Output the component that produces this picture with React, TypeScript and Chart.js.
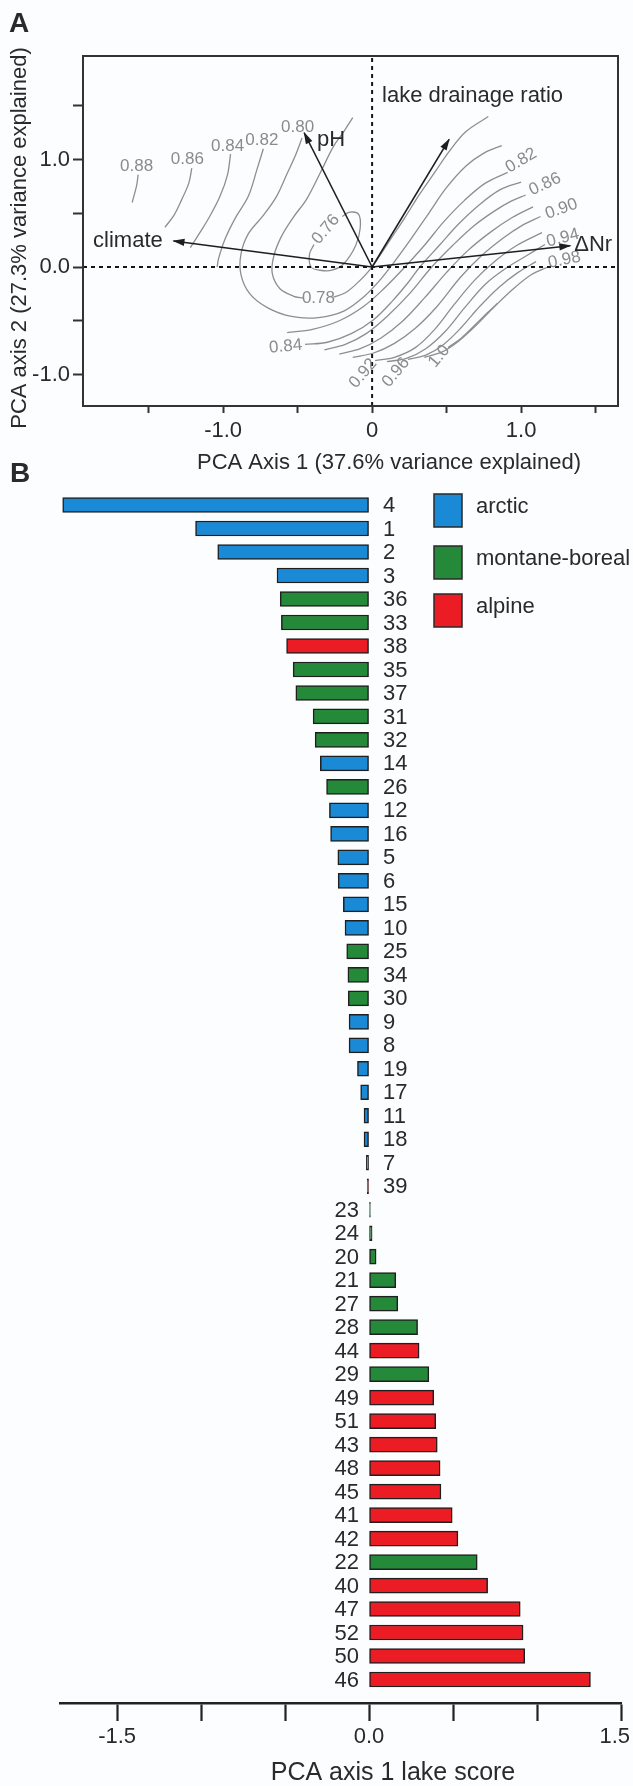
import React, { useEffect, useRef } from 'react';
import { Chart, registerables } from 'chart.js';

Chart.register(...registerables);

const FONT = '"Liberation Sans", Arial, Helvetica, sans-serif';
const INK = '#2a2a2a';
const GREY = '#8b8b8b';

// ---------------- Panel B data ----------------
const lakeIds = ['4', '1', '2', '3', '36', '33', '38', '35', '37', '31', '32', '14', '26', '12', '16', '5', '6', '15', '10', '25', '34', '30', '9', '8', '19', '17', '11', '18', '7', '39', '23', '24', '20', '21', '27', '28', '44', '29', '49', '51', '43', '48', '45', '41', '42', '22', '40', '47', '52', '50', '46'];
const lakeScores = [-1.824, -1.033, -0.901, -0.548, -0.529, -0.522, -0.491, -0.452, -0.436, -0.333, -0.321, -0.29, -0.253, -0.236, -0.229, -0.186, -0.184, -0.153, -0.143, -0.133, -0.126, -0.124, -0.119, -0.119, -0.069, -0.05, -0.03, -0.03, -0.016, -0.011, 0.008, 0.018, 0.042, 0.159, 0.171, 0.289, 0.298, 0.356, 0.385, 0.397, 0.406, 0.423, 0.428, 0.495, 0.529, 0.644, 0.706, 0.9, 0.917, 0.927, 1.318];
const lakeRegions = ['A', 'A', 'A', 'A', 'M', 'M', 'L', 'M', 'M', 'M', 'M', 'A', 'M', 'A', 'A', 'A', 'A', 'A', 'A', 'M', 'M', 'M', 'A', 'A', 'A', 'A', 'A', 'A', 'A', 'L', 'M', 'M', 'M', 'M', 'M', 'M', 'L', 'M', 'L', 'L', 'L', 'L', 'L', 'L', 'L', 'M', 'L', 'L', 'L', 'L', 'L'];
const regionCodes = ['A', 'M', 'L'];
const regionNames = ['arctic', 'montane-boreal', 'alpine'];
const regionColors = ['#1b8ad6', '#248a3a', '#ec1c24'];
const scoreRange = [-1.84, 1.5];
const scoreTicks = [-1.5, -1, -0.5, 0, 0.5, 1, 1.5];
const scoreTickLabels = ['-1.5', '', '', '0.0', '', '', '1.5'];

// ---------------- Panel A data ----------------
const pcaXRange = [-1.94, 1.65];
const pcaYRange = [-1.293, 1.963];
const pcaXTicks = [-1.5, -1, -0.5, 0, 0.5, 1, 1.5];
const pcaXTickLabels = ['', '-1.0', '', '0', '', '1.0', ''];
const pcaYTicks = [-1, -0.5, 0, 0.5, 1, 1.5];
const pcaYTickLabels = ['-1.0', '', '0.0', '', '1.0', ''];

const vectorNames = ['climate', 'pH', 'lake drainage ratio', 'ΔNr'];
const vectorX = [-1.333, -0.456, 0.517, 1.33];
const vectorY = [0.242, 1.249, 1.188, 0.198];

const contour088 = [[-1.57, 0.86], [-1.58, 0.76], [-1.61, 0.6]];
const contour086 = [[-1.21, 0.92], [-1.23, 0.78], [-1.28, 0.62], [-1.33, 0.48], [-1.39, 0.37]];
const contour084a = [[-0.95, 1.05], [-0.97, 0.86], [-1.02, 0.66], [-1.09, 0.47], [-1.16, 0.31], [-1.22, 0.18]];
const contour082a = [[-0.73, 1.1], [-0.77, 0.92], [-0.83, 0.66], [-0.92, 0.45], [-0.99, 0.25], [-1.03, 0.08], [-1.04, 0.0]];
const contour080 = [[-0.47, 1.2], [-0.52, 1.02], [-0.57, 0.87], [-0.64, 0.66], [-0.73, 0.48], [-0.83, 0.31], [-0.88, 0.12], [-0.88, -0.07], [-0.82, -0.25], [-0.7, -0.38], [-0.54, -0.46], [-0.36, -0.47], [-0.19, -0.41], [-0.05, -0.27], [0.06, -0.11], [0.15, 0.05], [0.26, 0.26], [0.38, 0.5], [0.5, 0.74], [0.63, 0.94], [0.75, 1.06], [0.87, 1.13]];
const contour078a = [[-0.13, 1.39], [-0.19, 1.26], [-0.26, 1.12], [-0.35, 0.87], [-0.44, 0.63], [-0.53, 0.46], [-0.61, 0.28], [-0.66, 0.1], [-0.67, -0.06], [-0.62, -0.2], [-0.53, -0.27], [-0.46, -0.29]];
const contour078b = [[-0.26, -0.28], [-0.18, -0.24], [-0.1, -0.15], [-0.03, -0.05], [0.03, 0.06], [0.12, 0.25], [0.22, 0.46], [0.32, 0.68], [0.42, 0.88], [0.52, 1.08], [0.63, 1.26], [0.78, 1.4]];
const contour076 = [[-0.2, 0.47], [-0.15, 0.51], [-0.09, 0.49], [-0.08, 0.36], [-0.11, 0.2], [-0.19, 0.03], [-0.27, -0.03], [-0.35, -0.03], [-0.41, 0.0], [-0.42, 0.12], [-0.39, 0.21]];
const contour082b = [[-0.57, -0.61], [-0.4, -0.58], [-0.22, -0.5], [-0.06, -0.37], [0.08, -0.2], [0.22, 0.0], [0.35, 0.2], [0.48, 0.42], [0.62, 0.62], [0.76, 0.78], [0.91, 0.88]];
const contour084b = [[-0.45, -0.72], [-0.3, -0.7], [-0.14, -0.62], [0.01, -0.49], [0.14, -0.31], [0.25, -0.13], [0.32, 0.0], [0.45, 0.2], [0.58, 0.4], [0.72, 0.58], [0.86, 0.72], [1.0, 0.79]];
const contour086b = [[-0.32, -0.77], [-0.18, -0.72], [-0.04, -0.62], [0.1, -0.46], [0.25, -0.25], [0.4, 0.0], [0.54, 0.2], [0.68, 0.38], [0.82, 0.52], [0.93, 0.61], [1.03, 0.67]];
const contour088b = [[-0.22, -0.81], [-0.08, -0.76], [0.06, -0.66], [0.2, -0.51], [0.35, -0.29], [0.5, -0.05], [0.64, 0.15], [0.79, 0.32], [0.94, 0.46], [1.08, 0.56]];
const contour090 = [[-0.13, -0.84], [0.01, -0.8], [0.15, -0.71], [0.29, -0.57], [0.44, -0.36], [0.59, -0.1], [0.73, 0.1], [0.88, 0.27], [1.01, 0.39], [1.13, 0.47]];
const contour092 = [[0.02, -0.87], [0.15, -0.84], [0.29, -0.75], [0.42, -0.58], [0.55, -0.35], [0.69, -0.12], [0.83, 0.06], [0.97, 0.2], [1.14, 0.32]];
const contour094 = [[0.1, -0.88], [0.23, -0.85], [0.36, -0.76], [0.49, -0.6], [0.62, -0.38], [0.76, -0.16], [0.9, -0.01], [1.03, 0.1], [1.16, 0.21]];
const contour096 = [[0.24, -0.86], [0.36, -0.82], [0.48, -0.72], [0.6, -0.56], [0.72, -0.37], [0.85, -0.19], [0.98, -0.05], [1.1, 0.05]];
const contour098 = [[0.35, -0.84], [0.47, -0.79], [0.58, -0.69], [0.7, -0.54], [0.82, -0.37], [0.95, -0.2], [1.07, -0.07], [1.18, 0.0]];
const contour100 = [[0.51, -0.75], [0.6, -0.66], [0.69, -0.54], [0.77, -0.43], [0.84, -0.34]];

const contours = [contour088, contour086, contour084a, contour082a, contour080, contour078a, contour078b, contour076, contour082b, contour084b, contour086b, contour088b, contour090, contour092, contour094, contour096, contour098, contour100];

const contourLabelText = ['0.88', '0.86', '0.84', '0.82', '0.80', '0.76', '0.78', '0.84', '0.92', '0.96', '1.0', '0.82', '0.86', '0.90', '0.94', '0.98'];
const contourLabelX = [-1.58, -1.24, -0.97, -0.74, -0.5, -0.31, -0.36, -0.58, -0.06, 0.16, 0.45, 1.0, 1.16, 1.27, 1.28, 1.29];
const contourLabelY = [0.94, 1.0, 1.12, 1.18, 1.3, 0.35, -0.29, -0.74, -0.99, -0.98, -0.83, 0.99, 0.77, 0.54, 0.27, 0.065];

// label placement (annotation styling)
const contourLabelAngle = [0, 0, 0, 0, 0, -50, 0, -5, -50, -50, -50, -30, -25, -20, -15, -12];
const vectorLabelX = [-1.405, -0.37, 0.067, 1.356];
const vectorLabelY = [0.247, 1.18, 1.59, 0.205];
const vectorLabelAlign: CanvasTextAlign[] = ['right', 'left', 'left', 'left'];

const W = 633;
const A_H = 490;
const B_TOP = 490;
const B_H = 1786 - B_TOP;

const panelAPlugin = {
  id: 'panelAExtras',
  afterDatasetsDraw(chart: any) {
    const { ctx } = chart;
    const xs = chart.scales.x;
    const ys = chart.scales.y;
    const x0 = xs.getPixelForValue(0);
    const y0 = ys.getPixelForValue(0);
    ctx.save();
    vectorX.forEach((vx, i) => {
      const x1 = xs.getPixelForValue(vx);
      const y1 = ys.getPixelForValue(vectorY[i]);
      const ang = Math.atan2(y1 - y0, x1 - x0);
      ctx.save();
      ctx.translate(x1, y1);
      ctx.rotate(ang);
      ctx.beginPath();
      ctx.moveTo(1, 0);
      ctx.lineTo(-11, 3.6);
      ctx.lineTo(-11, -3.6);
      ctx.closePath();
      ctx.fillStyle = '#1e1e1e';
      ctx.fill();
      ctx.restore();
    });
    ctx.restore();
  },
  afterDraw(chart: any) {
    const { ctx, chartArea: a } = chart;
    const xs = chart.scales.x;
    const ys = chart.scales.y;
    ctx.save();
    ctx.strokeStyle = '#333';
    ctx.lineWidth = 2;
    ctx.strokeRect(a.left, a.top, a.right - a.left, a.bottom - a.top);

    ctx.fillStyle = GREY;
    ctx.font = `17px ${FONT}`;
    ctx.textAlign = 'center';
    ctx.textBaseline = 'middle';
    contourLabelText.forEach((t, i) => {
      ctx.save();
      ctx.translate(xs.getPixelForValue(contourLabelX[i]), ys.getPixelForValue(contourLabelY[i]));
      ctx.rotate((contourLabelAngle[i] * Math.PI) / 180);
      ctx.fillText(t, 0, 0);
      ctx.restore();
    });

    ctx.fillStyle = INK;
    ctx.font = `22px ${FONT}`;
    vectorNames.forEach((n, i) => {
      ctx.textAlign = vectorLabelAlign[i];
      ctx.fillText(n, xs.getPixelForValue(vectorLabelX[i]), ys.getPixelForValue(vectorLabelY[i]));
    });

    // axis titles
    ctx.textAlign = 'center';
    ctx.fillText('PCA Axis 1 (37.6% variance explained)', 389, 463);
    ctx.save();
    ctx.translate(20, 238);
    ctx.rotate(-Math.PI / 2);
    ctx.fillText('PCA axis 2 (27.3% variance explained)', 0, 0);
    ctx.restore();

    // panel letters
    ctx.font = `bold 28px ${FONT}`;
    ctx.textAlign = 'left';
    ctx.textBaseline = 'alphabetic';
    ctx.fillText('A', 9, 32);
    ctx.fillText('B', 10, 482);
    ctx.restore();
  },
};

const panelBPlugin = {
  id: 'panelBExtras',
  afterDatasetsDraw(chart: any) {
    const { ctx } = chart;
    const xs = chart.scales.x;
    const zero = xs.getPixelForValue(0);
    const meta = chart.getDatasetMeta(0);
    ctx.save();
    ctx.fillStyle = INK;
    ctx.font = `22px ${FONT}`;
    ctx.textBaseline = 'middle';
    meta.data.forEach((bar: any, i: number) => {
      if (lakeScores[i] < 0) {
        ctx.textAlign = 'left';
        ctx.fillText(lakeIds[i], zero + 14, bar.y + 1);
      } else {
        ctx.textAlign = 'right';
        ctx.fillText(lakeIds[i], zero - 10, bar.y + 1);
      }
    });

    // legend
    const tops = [4, 56, 104];
    regionNames.forEach((name, i) => {
      ctx.fillStyle = regionColors[i];
      ctx.fillRect(434, tops[i], 28, 33);
      ctx.strokeStyle = '#2a2a2a';
      ctx.lineWidth = 1.5;
      ctx.strokeRect(434, tops[i], 28, 33);
      ctx.fillStyle = INK;
      ctx.textAlign = 'left';
      ctx.fillText(name, 476, tops[i] + 13);
    });

    // x tick labels (kept inside the canvas like the reference)
    ctx.font = `22px ${FONT}`;
    ctx.textAlign = 'center';
    const axisY = chart.chartArea.bottom;
    scoreTicks.forEach((v, i) => {
      const t = scoreTickLabels[i];
      if (!t) return;
      const w = ctx.measureText(t).width;
      let px = xs.getPixelForValue(v);
      px = Math.min(px, W - 3 - w / 2);
      ctx.fillText(t, px, axisY + 34);
    });

    ctx.font = `25px ${FONT}`;
    ctx.fillText('PCA axis 1 lake score', 393, 1773 - B_TOP);
    ctx.restore();
  },
};

function PanelA() {
  const ref = useRef<HTMLCanvasElement>(null);
  useEffect(() => {
    const canvas = ref.current;
    if (!canvas) return;
    const dashed = {
      showLine: true,
      borderColor: '#151515',
      borderWidth: 2,
      borderDash: [4, 4],
      pointRadius: 0,
      order: 1,
    };
    const datasets: any[] = [
      ...vectorX.map((vx, i) => ({
        data: [{ x: 0, y: 0 }, { x: vx, y: vectorY[i] }],
        showLine: true,
        borderColor: '#1e1e1e',
        borderWidth: 1.6,
        pointRadius: 0,
        order: 0,
      })),
      { ...dashed, data: [{ x: pcaXRange[0], y: 0 }, { x: pcaXRange[1], y: 0 }] },
      { ...dashed, data: [{ x: 0, y: pcaYRange[0] }, { x: 0, y: pcaYRange[1] }] },
      ...contours.map((pts) => ({
        data: pts.map(([x, y]) => ({ x, y })),
        showLine: true,
        borderColor: '#8e8e8e',
        borderWidth: 1.3,
        pointRadius: 0,
        tension: 0.35,
        order: 3,
      })),
    ];
    const chart = new Chart(canvas, {
      type: 'scatter',
      data: { datasets },
      options: {
        animation: false,
        responsive: false,
        events: [],
        layout: { padding: { left: 0, top: 56, right: W - 618, bottom: 0 } },
        plugins: { legend: { display: false }, tooltip: { enabled: false } },
        scales: {
          x: {
            type: 'linear',
            min: pcaXRange[0],
            max: pcaXRange[1],
            bounds: 'data',
            offset: false,
            afterBuildTicks: (s: any) => {
              s.ticks = pcaXTicks.map((v) => ({ value: v }));
            },
            afterFit: (s: any) => {
              s.height = A_H - 406;
              s.paddingLeft = 0;
              s.paddingRight = 0;
            },
            ticks: {
              autoSkip: false,
              maxRotation: 0,
              padding: 5,
              color: INK,
              font: { size: 22, family: FONT },
              callback: (_v: any, i: number) => pcaXTickLabels[i],
            },
            grid: { drawOnChartArea: false, drawTicks: true, tickLength: 7, tickWidth: 2, tickColor: '#333' },
            border: { display: true, color: '#333', width: 2 },
          },
          y: {
            type: 'linear',
            min: pcaYRange[0],
            max: pcaYRange[1],
            bounds: 'data',
            offset: false,
            afterBuildTicks: (s: any) => {
              s.ticks = pcaYTicks.map((v) => ({ value: v }));
            },
            afterFit: (s: any) => {
              s.width = 83;
              s.paddingTop = 0;
              s.paddingBottom = 0;
            },
            ticks: {
              autoSkip: false,
              padding: 3,
              color: INK,
              font: { size: 22, family: FONT },
              callback: (_v: any, i: number) => pcaYTickLabels[i],
            },
            grid: { drawOnChartArea: false, drawTicks: true, tickLength: 10, tickWidth: 2, tickColor: '#333' },
            border: { display: true, color: '#333', width: 2 },
          },
        },
      } as any,
      plugins: [panelAPlugin],
    });
    return () => chart.destroy();
  }, []);
  return <canvas ref={ref} width={W} height={A_H} style={{ position: 'absolute', left: 0, top: 0, width: W, height: A_H }} />;
}

function PanelB() {
  const ref = useRef<HTMLCanvasElement>(null);
  useEffect(() => {
    const canvas = ref.current;
    if (!canvas) return;
    const chart = new Chart(canvas, {
      type: 'bar',
      data: {
        datasets: [
          {
            data: lakeScores.map((v, i) => ({ x: v, y: i })),
            backgroundColor: lakeRegions.map((r) => regionColors[regionCodes.indexOf(r)]),
            borderColor: '#1f1f1f',
            borderWidth: 1.5,
            borderSkipped: false,
            barThickness: 15,
          },
        ],
      },
      options: {
        indexAxis: 'y',
        animation: false,
        responsive: false,
        events: [],
        layout: { padding: { left: 60, top: 493.3 - B_TOP, right: W - 621, bottom: 0 } },
        plugins: { legend: { display: false }, tooltip: { enabled: false } },
        scales: {
          x: {
            type: 'linear',
            min: scoreRange[0],
            max: scoreRange[1],
            bounds: 'data',
            offset: false,
            afterBuildTicks: (s: any) => {
              s.ticks = scoreTicks.map((v) => ({ value: v }));
            },
            afterFit: (s: any) => {
              s.height = B_H - (1703 - B_TOP);
              s.paddingLeft = 0;
              s.paddingRight = 0;
            },
            ticks: {
              autoSkip: false,
              maxRotation: 0,
              padding: 4,
              color: INK,
              font: { size: 22, family: FONT },
              callback: () => '',
            },
            grid: { drawOnChartArea: false, drawTicks: true, tickLength: 18, tickWidth: 2.2, tickColor: '#222' },
            border: { display: true, color: '#222', width: 2.5 },
          },
          y: {
            type: 'linear',
            reverse: true,
            bounds: 'data',
            offset: false,
            min: -0.5,
            max: lakeIds.length,
            afterDataLimits: (s: any) => {
              s.min = -0.5;
              s.max = lakeIds.length;
            },
            display: false,
          },
        },
      } as any,
      plugins: [panelBPlugin],
    });
    return () => chart.destroy();
  }, []);
  return <canvas ref={ref} width={W} height={B_H} style={{ position: 'absolute', left: 0, top: B_TOP, width: W, height: B_H }} />;
}

export default function App() {
  useEffect(() => {
    document.body.style.margin = '0';
    document.body.style.background = '#fcfdfe';
  }, []);
  return (
    <div style={{ position: 'absolute', left: 0, top: 0, width: W, height: 1786, background: '#fcfdfe', overflow: 'hidden' }}>
      <PanelA />
      <PanelB />
    </div>
  );
}
